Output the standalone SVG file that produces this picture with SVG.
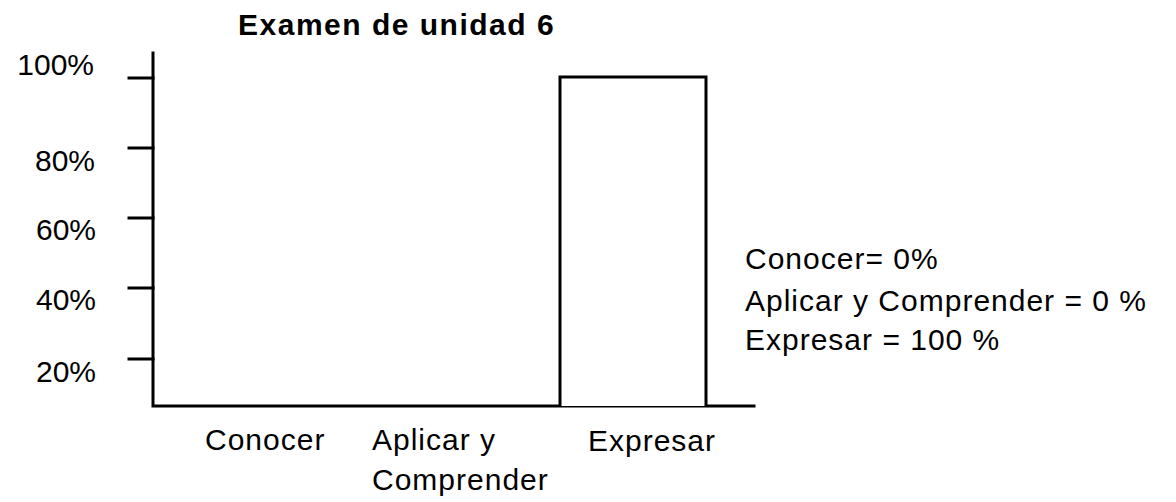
<svg xmlns="http://www.w3.org/2000/svg" width="1176" height="502" viewBox="0 0 1176 502">
<style>
  text { font-family: "Liberation Sans", Arial, sans-serif; fill: #000; }
  .title { font-size: 30px; font-weight: bold; letter-spacing: 1.5px; }
  .ylab { font-size: 30px; text-anchor: end; }
  .xlab { font-size: 30px; letter-spacing: 1px; }
  .note { font-size: 30px; letter-spacing: 1px; }
  .ax { stroke: #000; stroke-width: 3; fill: none; stroke-linecap: square; }
  .bar { stroke: #000; stroke-width: 3; fill: #fff; }
</style>
<rect width="1176" height="502" fill="#fff"/>
<g id="title"><text class="title" x="238" y="35">Examen de unidad 6</text></g>
<g id="axes">
  <path class="ax" d="M153,53 V406 H754"/>
  <path class="ax" d="M129,78 H153 M129,148 H153 M129,218 H153 M129,288 H153 M129,359 H153"/>
</g>
<g id="y-labels">
  <text class="ylab" x="94" y="75">100%</text>
  <text class="ylab" x="95" y="171">80%</text>
  <text class="ylab" x="96" y="240">60%</text>
  <text class="ylab" x="96" y="310">40%</text>
  <text class="ylab" x="96" y="382">20%</text>
</g>
<g id="bar-expresar"><path class="bar" d="M560,406 V77 H706 V406"/></g>
<g id="x-labels">
  <text class="xlab" x="205" y="450">Conocer</text>
  <text class="xlab" x="372" y="450">Aplicar y</text>
  <text class="xlab" x="372" y="490">Comprender</text>
  <text class="xlab" x="588" y="451">Expresar</text>
</g>
<g id="summary">
  <text class="note" x="745" y="269">Conocer= 0%</text>
  <text class="note" x="745" y="311">Aplicar y Comprender = 0 %</text>
  <text class="note" x="745" y="350">Expresar = 100 %</text>
</g>
</svg>
